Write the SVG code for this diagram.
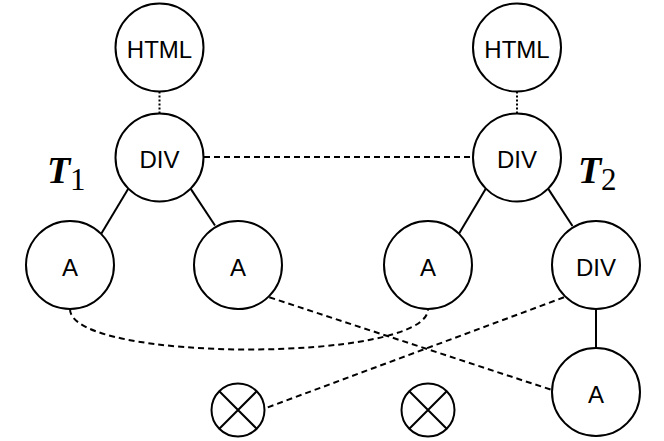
<svg xmlns="http://www.w3.org/2000/svg" width="664" height="441" viewBox="0 0 664 441">
<style>
.n{fill:#fff;stroke:#000;stroke-width:2}
.t{font-family:"Liberation Sans",Arial,sans-serif;font-size:24px;text-anchor:middle;fill:#000}
.e{fill:none;stroke:#000;stroke-width:2}
.d{stroke-dasharray:6 4}
.o{stroke-dasharray:2 2}
.lt{font-family:"Liberation Serif","Times New Roman",serif;fill:#000}
</style>
<rect width="664" height="441" fill="#fff"/>
<g id="connectors">
<line class="e o" x1="159.5" y1="91.5" x2="159.5" y2="113.5"/>
<line class="e o" x1="517" y1="91.5" x2="517" y2="113.5"/>
<line class="e d" x1="204" y1="157" x2="472" y2="157"/>
<line class="e" x1="128.4" y1="188.6" x2="101.4" y2="233.6"/>
<line class="e" x1="190.6" y1="188.6" x2="215" y2="225.5"/>
<line class="e" x1="485.9" y1="188.6" x2="459.1" y2="233.6"/>
<line class="e" x1="548.1" y1="188.6" x2="572.5" y2="226"/>
<line class="e" x1="596" y1="309" x2="596" y2="348"/>
<path class="e d" d="M70,309 C70,363 428,363 428,309"/>
<line class="e d" x1="269.3" y1="297.3" x2="552" y2="390"/>
<line class="e d" x1="564" y1="297.3" x2="266" y2="408"/>
</g>
<g id="html1"><circle class="n" cx="159.5" cy="47.5" r="44"/><text class="t" x="159.5" y="58">HTML</text></g>
<g id="div1"><circle class="n" cx="159.5" cy="157.5" r="44"/><text class="t" x="159.5" y="167.5">DIV</text></g>
<g id="a1"><circle class="n" cx="70" cy="265" r="44"/><text class="t" x="70" y="275.5">A</text></g>
<g id="a2"><circle class="n" cx="238" cy="265" r="44"/><text class="t" x="238" y="275.5">A</text></g>
<g id="html2"><circle class="n" cx="517" cy="47.5" r="44"/><text class="t" x="517" y="58">HTML</text></g>
<g id="div2"><circle class="n" cx="517" cy="157.5" r="44"/><text class="t" x="517" y="167.5">DIV</text></g>
<g id="a3"><circle class="n" cx="428" cy="265" r="44"/><text class="t" x="428" y="275.5">A</text></g>
<g id="div3"><circle class="n" cx="596" cy="265" r="44"/><text class="t" x="596" y="275.5">DIV</text></g>
<g id="a4"><circle class="n" cx="596" cy="392" r="44"/><text class="t" x="596" y="402.5">A</text></g>
<g id="x1"><circle class="n" cx="238" cy="410" r="26.5"/><path class="e" d="M219.3,391.3 L256.7,428.7 M256.7,391.3 L219.3,428.7"/></g>
<g id="x2"><circle class="n" cx="428" cy="410" r="26.5"/><path class="e" d="M409.3,391.3 L446.7,428.7 M446.7,391.3 L409.3,428.7"/></g>
<g id="label-t1"><text class="lt" x="47" y="183.3" font-size="38" font-weight="bold" font-style="italic">T</text><text class="lt" x="70" y="190" font-size="31">1</text></g>
<g id="label-t2"><text class="lt" x="578" y="183.3" font-size="38" font-weight="bold" font-style="italic">T</text><text class="lt" x="601" y="190" font-size="31">2</text></g>
</svg>
